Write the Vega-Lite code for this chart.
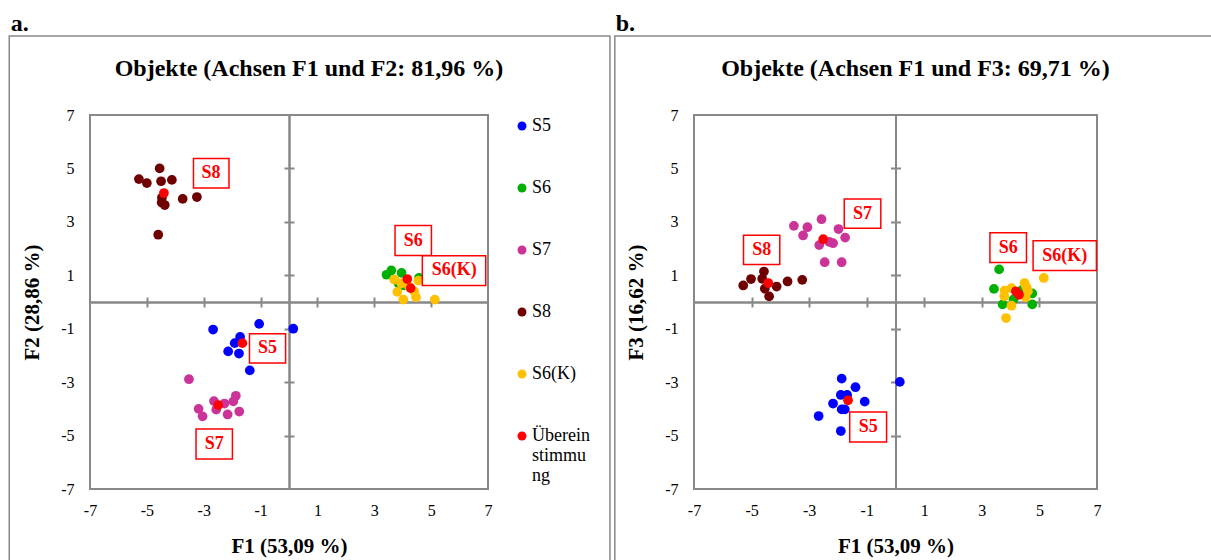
{
  "$schema": "https://vega.github.io/schema/vega-lite/v6.json",
  "background": "white",
  "padding": {"left": 7, "top": 10, "right": 0, "bottom": 0},
  "spacing": 1,
  "config": {"view": {"stroke": "#888888", "strokeWidth": 2}, "font": "Liberation Serif", "axis": {"grid": false}},
  "hconcat": [
    {
      "width": 398,
      "height": 374,
      "title": {"text": "Objekte (Achsen F1 und F2: 81,96 %)", "frame": "group", "anchor": "middle", "dx": 20, "offset": -69, "fontSize": 24, "font": "Liberation Serif", "fontWeight": "bold", "color": "#000000"},
      "resolve": {"axis": {"x": "independent", "y": "independent"}},
      "layer": [
        {
          "data": {"values": [{"fx1": -9.84, "fx2": 11.29, "fy1": 9.96, "fy2": -10.5}]},
          "mark": {"type": "rect", "fill": "white", "fillOpacity": 0, "stroke": "#888888", "strokeWidth": 1.5},
          "encoding": {
            "x": {"field": "fx1", "type": "quantitative", "scale": {"domain": [-7, 7], "nice": false, "zero": false}, "axis": null},
            "x2": {"field": "fx2"},
            "y": {"field": "fy1", "type": "quantitative", "scale": {"domain": [-7, 7], "nice": false, "zero": false}, "axis": null},
            "y2": {"field": "fy2"}
          }
        },
        {
          "data": {"values": [{"tag": "a.", "tx": -9.79, "ty": 10.15}]},
          "mark": {"type": "text", "align": "left", "baseline": "alphabetic", "fontSize": 24, "fontWeight": "bold", "font": "Liberation Serif", "color": "#000000"},
          "encoding": {
            "x": {"field": "tx", "type": "quantitative", "axis": null},
            "y": {"field": "ty", "type": "quantitative", "axis": null},
            "text": {"field": "tag"}
          }
        },
        {
          "data": {"values": [
            {"serie": "S5", "F1": -2.67, "F2": -1.03}, {"serie": "S5", "F1": -1.05, "F2": -0.82}, {"serie": "S5", "F1": 0.15, "F2": -1.0}, {"serie": "S5", "F1": -1.72, "F2": -1.31}, {"serie": "S5", "F1": -1.91, "F2": -1.54}, {"serie": "S5", "F1": -2.14, "F2": -1.85}, {"serie": "S5", "F1": -1.76, "F2": -1.93}, {"serie": "S5", "F1": -1.38, "F2": -2.56},
            {"serie": "S6", "F1": 3.43, "F2": 1.02}, {"serie": "S6", "F1": 3.6, "F2": 1.18}, {"serie": "S6", "F1": 3.96, "F2": 1.09}, {"serie": "S6", "F1": 4.75, "F2": 0.84}, {"serie": "S6", "F1": 4.57, "F2": 0.9}, {"serie": "S6", "F1": 4.05, "F2": 0.62}, {"serie": "S6", "F1": 3.85, "F2": 0.7},
            {"serie": "S7", "F1": -3.52, "F2": -2.89}, {"serie": "S7", "F1": -2.64, "F2": -3.71}, {"serie": "S7", "F1": -2.27, "F2": -3.8}, {"serie": "S7", "F1": -1.87, "F2": -3.51}, {"serie": "S7", "F1": -1.96, "F2": -3.72}, {"serie": "S7", "F1": -3.18, "F2": -4.0}, {"serie": "S7", "F1": -3.04, "F2": -4.28}, {"serie": "S7", "F1": -2.56, "F2": -4.03}, {"serie": "S7", "F1": -2.16, "F2": -4.21}, {"serie": "S7", "F1": -1.75, "F2": -4.1},
            {"serie": "S8", "F1": -5.28, "F2": 4.6}, {"serie": "S8", "F1": -4.55, "F2": 5.0}, {"serie": "S8", "F1": -5.0, "F2": 4.45}, {"serie": "S8", "F1": -4.5, "F2": 4.52}, {"serie": "S8", "F1": -4.12, "F2": 4.57}, {"serie": "S8", "F1": -4.48, "F2": 3.72}, {"serie": "S8", "F1": -4.37, "F2": 3.63}, {"serie": "S8", "F1": -3.74, "F2": 3.86}, {"serie": "S8", "F1": -3.24, "F2": 3.93}, {"serie": "S8", "F1": -4.6, "F2": 2.52}, {"serie": "S8", "F1": -4.47, "F2": 3.9},
            {"serie": "S6(K)", "F1": 3.7, "F2": 0.84}, {"serie": "S6(K)", "F1": 3.81, "F2": 0.38}, {"serie": "S6(K)", "F1": 4.02, "F2": 0.09}, {"serie": "S6(K)", "F1": 4.47, "F2": 0.18}, {"serie": "S6(K)", "F1": 5.13, "F2": 0.09}, {"serie": "S6(K)", "F1": 4.55, "F2": 0.8}, {"serie": "S6(K)", "F1": 4.22, "F2": 0.58}, {"serie": "S6(K)", "F1": 4.4, "F2": 0.4}, {"serie": "S6(K)", "F1": 3.95, "F2": 0.7},
            {"serie": "Übereinstimmung", "F1": -4.4, "F2": 4.08}, {"serie": "Übereinstimmung", "F1": -1.64, "F2": -1.54}, {"serie": "Übereinstimmung", "F1": -2.49, "F2": -3.86}, {"serie": "Übereinstimmung", "F1": 4.16, "F2": 0.86}, {"serie": "Übereinstimmung", "F1": 4.28, "F2": 0.52}
          ]},
          "mark": {"type": "circle", "size": 95, "opacity": 1},
          "encoding": {
            "x": {"field": "F1", "type": "quantitative", "scale": {"domain": [-7, 7], "nice": false, "zero": false},
              "axis": {"orient": "bottom", "values": [-7, -5, -3, -1, 1, 3, 5, 7], "labelExpr": "'' + datum.value", "domain": false, "ticks": false, "grid": false, "labelFlush": false, "labelOverlap": false, "labelBound": false, "labelFontSize": 16, "labelFont": "Liberation Serif", "labelColor": "#000000", "labelPadding": 13, "title": "F1 (53,09 %)", "titleFontSize": 21, "titleFont": "Liberation Serif", "titleFontWeight": "bold", "titleColor": "#000000", "titlePadding": 17}},
            "y": {"field": "F2", "type": "quantitative", "scale": {"domain": [-7, 7], "nice": false, "zero": false},
              "axis": {"orient": "left", "values": [-7, -5, -3, -1, 1, 3, 5, 7], "labelExpr": "'' + datum.value", "domain": false, "ticks": false, "grid": false, "labelFlush": false, "labelOverlap": false, "labelBound": false, "labelFontSize": 16, "labelFont": "Liberation Serif", "labelColor": "#000000", "labelPadding": 16, "title": "F2 (28,86 %)", "titleFontSize": 21, "titleFont": "Liberation Serif", "titleFontWeight": "bold", "titleColor": "#000000", "titlePadding": 18}},
            "color": {"field": "serie", "type": "nominal",
              "scale": {"domain": ["S5", "S6", "S7", "S8", "S6(K)", "Übereinstimmung"], "range": ["#0000FF", "#00B000", "#CC3399", "#700000", "#FFC000", "#FF0000"]},
              "legend": {"title": null, "orient": "none", "legendX": 423, "legendY": 2, "symbolType": "circle", "symbolSize": 80, "symbolStrokeWidth": 0, "labelFontSize": 18, "labelFont": "Liberation Serif", "labelColor": "#000000", "rowPadding": 44, "labelOffset": 1,
                "labelExpr": "datum.label === 'Übereinstimmung' ? ['Überein', 'stimmu', 'ng'] : datum.label",
                "encode": {"labels": {"update": {"lineHeight": {"value": 22}}}}}}
          }
        },
        {
          "data": {"values": [
            {"lab": "S8", "x1": -3.36, "x2": -2.11, "y1": 5.37, "y2": 4.27},
            {"lab": "S6", "x1": 3.73, "x2": 5.01, "y1": 2.86, "y2": 1.74},
            {"lab": "S6(K)", "x1": 4.69, "x2": 6.92, "y1": 1.73, "y2": 0.62},
            {"lab": "S5", "x1": -1.39, "x2": -0.12, "y1": -1.19, "y2": -2.28},
            {"lab": "S7", "x1": -3.27, "x2": -1.99, "y1": -4.75, "y2": -5.88}
          ]},
          "mark": {"type": "rect", "fill": "white", "stroke": "#FF0000", "strokeWidth": 1.5},
          "encoding": {
            "x": {"field": "x1", "type": "quantitative", "scale": {"domain": [-7, 7], "nice": false, "zero": false},
              "axis": {"orient": "bottom", "offset": -187, "values": [-5, -3, -1, 1, 3, 5], "labels": false, "title": null, "grid": false, "domain": true, "domainColor": "#888888", "domainWidth": 2, "ticks": true, "tickColor": "#888888", "tickWidth": 2, "tickSize": 5}},
            "x2": {"field": "x2"},
            "y": {"field": "y1", "type": "quantitative", "scale": {"domain": [-7, 7], "nice": false, "zero": false},
              "axis": {"orient": "left", "offset": -199, "values": [-5, -3, -1, 1, 3, 5], "labels": false, "title": null, "grid": false, "domain": true, "domainColor": "#888888", "domainWidth": 2, "ticks": true, "tickColor": "#888888", "tickWidth": 2, "tickSize": 5}},
            "y2": {"field": "y2"}
          }
        },
        {
          "data": {"values": [
            {"lab": "S8", "cx": -2.74, "cy": 4.82},
            {"lab": "S6", "cx": 4.37, "cy": 2.3},
            {"lab": "S6(K)", "cx": 5.81, "cy": 1.18},
            {"lab": "S5", "cx": -0.76, "cy": -1.74},
            {"lab": "S7", "cx": -2.63, "cy": -5.32}
          ]},
          "mark": {"type": "text", "align": "center", "baseline": "middle", "fontSize": 18, "fontWeight": "bold", "font": "Liberation Serif", "color": "#FF0000"},
          "encoding": {
            "x": {"field": "cx", "type": "quantitative", "scale": {"domain": [-7, 7], "nice": false, "zero": false},
              "axis": {"orient": "top", "offset": -187, "values": [-5, -3, -1, 1, 3, 5], "labels": false, "title": null, "grid": false, "domain": true, "domainColor": "#888888", "domainWidth": 2, "ticks": true, "tickColor": "#888888", "tickWidth": 2, "tickSize": 5}},
            "y": {"field": "cy", "type": "quantitative", "scale": {"domain": [-7, 7], "nice": false, "zero": false},
              "axis": {"orient": "right", "offset": -199, "values": [-5, -3, -1, 1, 3, 5], "labels": false, "title": null, "grid": false, "domain": true, "domainColor": "#888888", "domainWidth": 2, "ticks": true, "tickColor": "#888888", "tickWidth": 2, "tickSize": 5}},
            "text": {"field": "lab"}
          }
        }
      ]
    },
    {
      "width": 403,
      "height": 374,
      "title": {"text": "Objekte (Achsen F1 und F3: 69,71 %)", "frame": "group", "anchor": "middle", "dx": 20, "offset": -69, "fontSize": 24, "font": "Liberation Serif", "fontWeight": "bold", "color": "#000000"},
      "resolve": {"axis": {"x": "independent", "y": "independent"}},
      "layer": [
        {
          "data": {"values": [{"fx1": -9.75, "fx2": 11.05, "fy1": 9.96, "fy2": -10.5}]},
          "mark": {"type": "rect", "fill": "white", "fillOpacity": 0, "stroke": "#888888", "strokeWidth": 1.5},
          "encoding": {
            "x": {"field": "fx1", "type": "quantitative", "scale": {"domain": [-7, 7], "nice": false, "zero": false}, "axis": null},
            "x2": {"field": "fx2"},
            "y": {"field": "fy1", "type": "quantitative", "scale": {"domain": [-7, 7], "nice": false, "zero": false}, "axis": null},
            "y2": {"field": "fy2"}
          }
        },
        {
          "data": {"values": [{"tag": "b.", "tx": -9.72, "ty": 10.15}]},
          "mark": {"type": "text", "align": "left", "baseline": "alphabetic", "fontSize": 24, "fontWeight": "bold", "font": "Liberation Serif", "color": "#000000"},
          "encoding": {
            "x": {"field": "tx", "type": "quantitative", "axis": null},
            "y": {"field": "ty", "type": "quantitative", "axis": null},
            "text": {"field": "tag"}
          }
        },
        {
          "data": {"values": [
            {"serie": "S5", "F1": -1.87, "F3": -2.87}, {"serie": "S5", "F1": -1.39, "F3": -3.19}, {"serie": "S5", "F1": 0.15, "F3": -2.99}, {"serie": "S5", "F1": -1.9, "F3": -3.48}, {"serie": "S5", "F1": -1.68, "F3": -3.48}, {"serie": "S5", "F1": -2.17, "F3": -3.8}, {"serie": "S5", "F1": -1.87, "F3": -4.02}, {"serie": "S5", "F1": -1.76, "F3": -4.02}, {"serie": "S5", "F1": -1.07, "F3": -3.73}, {"serie": "S5", "F1": -2.67, "F3": -4.27}, {"serie": "S5", "F1": -1.9, "F3": -4.83},
            {"serie": "S6", "F1": 3.6, "F3": 1.22}, {"serie": "S6", "F1": 3.42, "F3": 0.49}, {"serie": "S6", "F1": 3.72, "F3": -0.09}, {"serie": "S6", "F1": 4.75, "F3": 0.32}, {"serie": "S6", "F1": 4.75, "F3": -0.09}, {"serie": "S6", "F1": 4.1, "F3": 0.1}, {"serie": "S6", "F1": 4.4, "F3": 0.45},
            {"serie": "S7", "F1": -3.53, "F3": 2.85}, {"serie": "S7", "F1": -3.06, "F3": 2.8}, {"serie": "S7", "F1": -2.57, "F3": 3.1}, {"serie": "S7", "F1": -3.21, "F3": 2.49}, {"serie": "S7", "F1": -2.65, "F3": 2.13}, {"serie": "S7", "F1": -2.17, "F3": 2.2}, {"serie": "S7", "F1": -1.98, "F3": 2.73}, {"serie": "S7", "F1": -1.75, "F3": 2.41}, {"serie": "S7", "F1": -2.46, "F3": 1.49}, {"serie": "S7", "F1": -1.87, "F3": 1.49}, {"serie": "S7", "F1": -2.3, "F3": 2.25},
            {"serie": "S8", "F1": -5.29, "F3": 0.62}, {"serie": "S8", "F1": -5.02, "F3": 0.86}, {"serie": "S8", "F1": -4.57, "F3": 1.14}, {"serie": "S8", "F1": -4.63, "F3": 0.87}, {"serie": "S8", "F1": -4.54, "F3": 0.5}, {"serie": "S8", "F1": -4.39, "F3": 0.21}, {"serie": "S8", "F1": -4.13, "F3": 0.58}, {"serie": "S8", "F1": -3.75, "F3": 0.77}, {"serie": "S8", "F1": -3.24, "F3": 0.83},
            {"serie": "S6(K)", "F1": 5.15, "F3": 0.9}, {"serie": "S6(K)", "F1": 3.79, "F3": 0.43}, {"serie": "S6(K)", "F1": 4.03, "F3": 0.52}, {"serie": "S6(K)", "F1": 4.03, "F3": -0.14}, {"serie": "S6(K)", "F1": 3.84, "F3": -0.6}, {"serie": "S6(K)", "F1": 4.48, "F3": 0.71}, {"serie": "S6(K)", "F1": 4.6, "F3": 0.4}, {"serie": "S6(K)", "F1": 4.52, "F3": 0.18}, {"serie": "S6(K)", "F1": 3.78, "F3": 0.21}, {"serie": "S6(K)", "F1": 4.55, "F3": 0.55},
            {"serie": "Übereinstimmung", "F1": -4.42, "F3": 0.71}, {"serie": "Übereinstimmung", "F1": -2.51, "F3": 2.35}, {"serie": "Übereinstimmung", "F1": 4.18, "F3": 0.4}, {"serie": "Übereinstimmung", "F1": 4.29, "F3": 0.27}, {"serie": "Übereinstimmung", "F1": -1.65, "F3": -3.68}
          ]},
          "mark": {"type": "circle", "size": 95, "opacity": 1},
          "encoding": {
            "x": {"field": "F1", "type": "quantitative", "scale": {"domain": [-7, 7], "nice": false, "zero": false},
              "axis": {"orient": "bottom", "values": [-7, -5, -3, -1, 1, 3, 5, 7], "labelExpr": "'' + datum.value", "domain": false, "ticks": false, "grid": false, "labelFlush": false, "labelOverlap": false, "labelBound": false, "labelFontSize": 16, "labelFont": "Liberation Serif", "labelColor": "#000000", "labelPadding": 13, "title": "F1 (53,09 %)", "titleFontSize": 21, "titleFont": "Liberation Serif", "titleFontWeight": "bold", "titleColor": "#000000", "titlePadding": 17}},
            "y": {"field": "F3", "type": "quantitative", "scale": {"domain": [-7, 7], "nice": false, "zero": false},
              "axis": {"orient": "left", "values": [-7, -5, -3, -1, 1, 3, 5, 7], "labelExpr": "'' + datum.value", "domain": false, "ticks": false, "grid": false, "labelFlush": false, "labelOverlap": false, "labelBound": false, "labelFontSize": 16, "labelFont": "Liberation Serif", "labelColor": "#000000", "labelPadding": 16, "title": "F3 (16,62 %)", "titleFontSize": 21, "titleFont": "Liberation Serif", "titleFontWeight": "bold", "titleColor": "#000000", "titlePadding": 18}},
            "color": {"field": "serie", "type": "nominal",
              "scale": {"domain": ["S5", "S6", "S7", "S8", "S6(K)", "Übereinstimmung"], "range": ["#0000FF", "#00B000", "#CC3399", "#700000", "#FFC000", "#FF0000"]},
              "legend": {"title": null, "orient": "none", "legendX": 423, "legendY": 2, "symbolType": "circle", "symbolSize": 80, "symbolStrokeWidth": 0, "labelFontSize": 18, "labelFont": "Liberation Serif", "labelColor": "#000000", "rowPadding": 44, "labelOffset": 1,
                "labelExpr": "datum.label === 'Übereinstimmung' ? ['Überein', 'stimmu', 'ng'] : datum.label",
                "encode": {"labels": {"update": {"lineHeight": {"value": 22}}}}}}
          }
        },
        {
          "data": {"values": [
            {"lab": "S7", "x1": -1.78, "x2": -0.51, "y1": 3.86, "y2": 2.76},
            {"lab": "S8", "x1": -5.28, "x2": -4.02, "y1": 2.5, "y2": 1.4},
            {"lab": "S6", "x1": 3.28, "x2": 4.55, "y1": 2.59, "y2": 1.48},
            {"lab": "S6(K)", "x1": 4.78, "x2": 6.98, "y1": 2.29, "y2": 1.18},
            {"lab": "S5", "x1": -1.59, "x2": -0.31, "y1": -4.12, "y2": -5.24}
          ]},
          "mark": {"type": "rect", "fill": "white", "stroke": "#FF0000", "strokeWidth": 1.5},
          "encoding": {
            "x": {"field": "x1", "type": "quantitative", "scale": {"domain": [-7, 7], "nice": false, "zero": false},
              "axis": {"orient": "bottom", "offset": -187, "values": [-5, -3, -1, 1, 3, 5], "labels": false, "title": null, "grid": false, "domain": true, "domainColor": "#888888", "domainWidth": 2, "ticks": true, "tickColor": "#888888", "tickWidth": 2, "tickSize": 5}},
            "x2": {"field": "x2"},
            "y": {"field": "y1", "type": "quantitative", "scale": {"domain": [-7, 7], "nice": false, "zero": false},
              "axis": {"orient": "left", "offset": -201.5, "values": [-5, -3, -1, 1, 3, 5], "labels": false, "title": null, "grid": false, "domain": true, "domainColor": "#888888", "domainWidth": 2, "ticks": true, "tickColor": "#888888", "tickWidth": 2, "tickSize": 5}},
            "y2": {"field": "y2"}
          }
        },
        {
          "data": {"values": [
            {"lab": "S7", "cx": -1.15, "cy": 3.31},
            {"lab": "S8", "cx": -4.65, "cy": 1.95},
            {"lab": "S6", "cx": 3.92, "cy": 2.03},
            {"lab": "S6(K)", "cx": 5.88, "cy": 1.73},
            {"lab": "S5", "cx": -0.95, "cy": -4.68}
          ]},
          "mark": {"type": "text", "align": "center", "baseline": "middle", "fontSize": 18, "fontWeight": "bold", "font": "Liberation Serif", "color": "#FF0000"},
          "encoding": {
            "x": {"field": "cx", "type": "quantitative", "scale": {"domain": [-7, 7], "nice": false, "zero": false},
              "axis": {"orient": "top", "offset": -187, "values": [-5, -3, -1, 1, 3, 5], "labels": false, "title": null, "grid": false, "domain": true, "domainColor": "#888888", "domainWidth": 2, "ticks": true, "tickColor": "#888888", "tickWidth": 2, "tickSize": 5}},
            "y": {"field": "cy", "type": "quantitative", "scale": {"domain": [-7, 7], "nice": false, "zero": false},
              "axis": {"orient": "right", "offset": -201.5, "values": [-5, -3, -1, 1, 3, 5], "labels": false, "title": null, "grid": false, "domain": true, "domainColor": "#888888", "domainWidth": 2, "ticks": true, "tickColor": "#888888", "tickWidth": 2, "tickSize": 5}},
            "text": {"field": "lab"}
          }
        }
      ]
    }
  ]
}
